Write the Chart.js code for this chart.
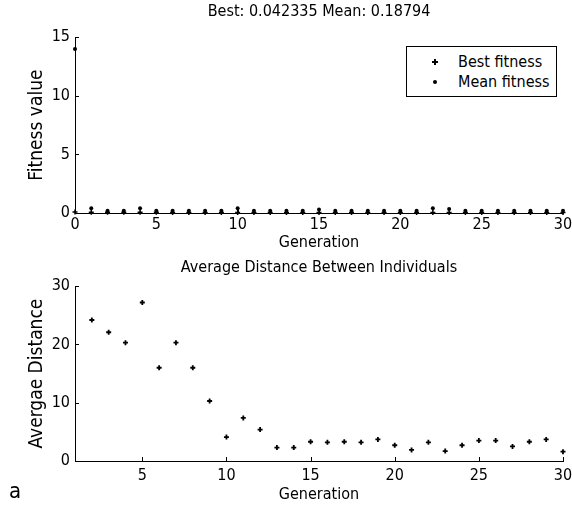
<!DOCTYPE html>
<html>
<head>
<meta charset="utf-8">
<script src="https://cdn.jsdelivr.net/npm/chart.js@4/dist/chart.umd.min.js"></script>
<style>
    body { margin: 0; background: #fff; width: 572px; height: 505px; position: relative; overflow: hidden; }
    .box { position: absolute; left: 0; width: 572px; }
    #topBox { top: 0; height: 252px; }
    #bottomBox { top: 252px; height: 253px; }
    .legend {
        position: absolute; left: 406px; top: 46px; width: 149px; height: 49px;
        border: 1px solid #000; background: #fff;
        font: 16px 'DejaVu Sans Condensed', 'Liberation Sans Narrow', sans-serif; color: #000;
    }
    .legend .row { position: absolute; left: 0; height: 18px; line-height: 18px; white-space: nowrap; }
    .legend .cross {
        position: absolute; left: 25px; top: 6px; width: 6px; height: 6px;
        background:
            linear-gradient(#000, #000) center / 6px 2px no-repeat,
            linear-gradient(#000, #000) center / 2px 6px no-repeat;
    }
    .legend .dot { position: absolute; left: 26px; top: 7px; width: 4px; height: 4px; border-radius: 50%; background: #000; }
    .legend .label { position: absolute; left: 51px; }
    .panel-tag { position: absolute; left: 9px; top: 478px; font: 22px 'DejaVu Sans Condensed', 'Liberation Sans Narrow', sans-serif; color: #000; }
</style>
</head>
<body>
<div class="box" id="topBox"><canvas id="fitnessChart"></canvas></div>
<div class="box" id="bottomBox"><canvas id="distanceChart"></canvas></div>
<div class="legend">
    <div class="row" style="top: 6px"><span class="cross"></span><span class="label">Best fitness</span></div>
    <div class="row" style="top: 26px"><span class="dot"></span><span class="label">Mean fitness</span></div>
</div>
<div class="panel-tag">a</div>
<script>
const fontFamily = "'DejaVu Sans Condensed', 'Liberation Sans Narrow', sans-serif";
const ink = '#000000';

// top panel: fitness per generation
const generations = [0, 1, 2, 3, 4, 5, 6, 7, 8, 9, 10, 11, 12, 13, 14, 15, 16, 17, 18, 19, 20, 21, 22, 23, 24, 25, 26, 27, 28, 29, 30];
const bestFitness = [0.09, 0.07, 0.06, 0.06, 0.055, 0.055, 0.05, 0.05, 0.05, 0.048, 0.048, 0.047, 0.047, 0.046, 0.046, 0.045, 0.045, 0.045, 0.044, 0.044, 0.044, 0.044, 0.043, 0.043, 0.043, 0.043, 0.043, 0.0425, 0.0424, 0.0424, 0.042335];
const meanFitness = [14, 0.4, 0.2, 0.2, 0.4, 0.2, 0.2, 0.2, 0.2, 0.2, 0.4, 0.2, 0.2, 0.2, 0.2, 0.3, 0.2, 0.2, 0.2, 0.2, 0.2, 0.2, 0.4, 0.35, 0.2, 0.2, 0.2, 0.2, 0.2, 0.2, 0.18794];
const fitnessXTicks = [0, 5, 10, 15, 20, 25, 30];
const fitnessYTicks = [0, 5, 10, 15];

// bottom panel: average distance between individuals
const distanceGenerations = [2, 3, 4, 5, 6, 7, 8, 9, 10, 11, 12, 13, 14, 15, 16, 17, 18, 19, 20, 21, 22, 23, 24, 25, 26, 27, 28, 29, 30];
const avgDistance = [24.2, 22.1, 20.3, 27.2, 16.0, 20.3, 16.0, 10.3, 4.1, 7.4, 5.4, 2.3, 2.3, 3.3, 3.2, 3.3, 3.2, 3.7, 2.7, 1.9, 3.2, 1.7, 2.7, 3.5, 3.5, 2.5, 3.3, 3.7, 1.6];
const distanceXTicks = [5, 10, 15, 20, 25, 30];
const distanceYTicks = [0, 10, 20, 30];

const toPoints = (xs, ys) => xs.map((x, i) => ({ x, y: ys[i] }));

// MATLAB style: ticks drawn inward from the axis lines
const inwardTicks = {
    id: 'inwardTicks',
    afterDraw(chart, args, opts) {
        const { ctx, chartArea, scales } = chart;
        const len = opts.length || 4;
        ctx.save();
        ctx.strokeStyle = ink;
        ctx.lineWidth = 1;
        ctx.beginPath();
        scales.x.ticks.forEach(t => {
            const px = Math.round(scales.x.getPixelForValue(t.value)) + 0.5;
            ctx.moveTo(px, chartArea.bottom);
            ctx.lineTo(px, chartArea.bottom - len);
        });
        scales.y.ticks.forEach(t => {
            const py = Math.round(scales.y.getPixelForValue(t.value)) + 0.5;
            ctx.moveTo(chartArea.left, py);
            ctx.lineTo(chartArea.left + len, py);
        });
        ctx.stroke();
        ctx.restore();
    }
};

// centre the title over the plot area instead of the whole canvas
const titleOverPlot = {
    id: 'titleOverPlot',
    afterLayout(chart) {
        if (!chart.titleBlock) return;
        chart.titleBlock.left = chart.chartArea.left;
        chart.titleBlock.right = chart.chartArea.right;
    }
};

function makeChart(canvasId, cfg) {
    const fixedTicks = values => scale => { scale.ticks = values.map(value => ({ value })); };
    return new Chart(document.getElementById(canvasId), {
        type: 'scatter',
        data: { datasets: cfg.datasets },
        plugins: [inwardTicks, titleOverPlot],
        options: {
            responsive: true,
            maintainAspectRatio: false,
            animation: false,
            layout: { padding: { left: 0, right: 9, top: 0, bottom: 0 } },
            plugins: {
                legend: { display: false },
                tooltip: { enabled: false },
                title: {
                    display: true,
                    text: cfg.title,
                    color: ink,
                    font: { family: fontFamily, size: 16, weight: 'normal', lineHeight: 1.2 },
                    padding: cfg.titlePadding
                },
                inwardTicks: { length: 4 }
            },
            scales: {
                x: {
                    type: 'linear',
                    min: cfg.xMin,
                    max: 30,
                    afterBuildTicks: fixedTicks(cfg.xTicks),
                    afterFit: scale => { scale.height = cfg.xHeight; scale.paddingLeft = 0; scale.paddingRight = 0; },
                    grid: { display: false, drawTicks: false },
                    border: { display: true, color: ink, width: 1 },
                    ticks: { color: ink, padding: cfg.xTickPad, maxRotation: 0, font: { family: fontFamily, size: 16 } },
                    title: {
                        display: true, text: 'Generation', color: ink,
                        font: { family: fontFamily, size: 16, lineHeight: 1.2 },
                        padding: { top: 0, bottom: cfg.xTitleBottom }
                    }
                },
                y: {
                    type: 'linear',
                    min: 0,
                    max: cfg.yMax,
                    afterBuildTicks: fixedTicks(cfg.yTicks),
                    afterFit: scale => { scale.width = 75; scale.paddingTop = 0; scale.paddingBottom = 0; },
                    grid: { display: false, drawTicks: false },
                    border: { display: true, color: ink, width: 1 },
                    ticks: { color: ink, padding: 5, font: { family: fontFamily, size: 16 } },
                    title: {
                        display: true, text: cfg.yTitle, color: ink,
                        font: { family: fontFamily, size: 19, lineHeight: 1.2 },
                        padding: { top: 26, bottom: 0 }
                    }
                }
            }
        }
    });
}

makeChart('fitnessChart', {
    title: 'Best: 0.042335 Mean: 0.18794',
    titlePadding: { top: 2, bottom: 16 },
    xMin: 0, xTicks: fitnessXTicks, xHeight: 39, xTitleBottom: 0, xTickPad: 2,
    yMax: 15, yTicks: fitnessYTicks, yTitle: 'Fitness value',
    datasets: [
        {
            label: 'Best fitness', data: toPoints(generations, bestFitness),
            pointStyle: 'cross', pointRadius: 2.5, borderWidth: 1.5,
            borderColor: ink, backgroundColor: ink, clip: false
        },
        {
            label: 'Mean fitness', data: toPoints(generations, meanFitness),
            pointStyle: 'circle', pointRadius: 2, borderWidth: 0,
            borderColor: ink, backgroundColor: ink, clip: false
        }
    ]
});

makeChart('distanceChart', {
    title: 'Average Distance Between Individuals',
    titlePadding: { top: 6, bottom: 9 },
    xMin: 1, xTicks: distanceXTicks, xHeight: 44, xTitleBottom: 1, xTickPad: 5,
    yMax: 30, yTicks: distanceYTicks, yTitle: 'Avergae Distance',
    datasets: [
        {
            label: 'Average distance', data: toPoints(distanceGenerations, avgDistance),
            pointStyle: 'cross', pointRadius: 2.5, borderWidth: 1.8,
            borderColor: ink, backgroundColor: ink, clip: false
        }
    ]
});
</script>
</body>
</html>
